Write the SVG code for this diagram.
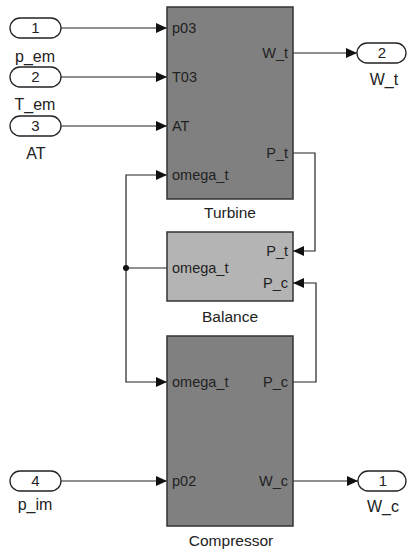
<svg xmlns="http://www.w3.org/2000/svg" width="407" height="551" viewBox="0 0 407 551">
<style>
text{font-family:"Liberation Sans",Arial,sans-serif;fill:#222}
.port{font-size:14.5px}
.name{font-size:15.5px;text-anchor:middle}
.io{fill:#fff;stroke:#222;stroke-width:1.3}
.ion{font-size:15px;text-anchor:middle}
.lbl{font-size:16px;text-anchor:middle}
.blk{stroke:#333;stroke-width:1.5}
.dark{fill:#808080}
.light{fill:#b4b4b4}
.r{text-anchor:end}
.ln{fill:none;stroke:#222;stroke-width:1.2}
</style>
<defs>
<marker id="ah" markerUnits="userSpaceOnUse" markerWidth="11" markerHeight="10" refX="11" refY="5" orient="auto" viewBox="0 0 11 10">
<path d="M0,0 L11,5 L0,10 z" fill="#111"/>
</marker>
</defs>
<g id="connectors">
<path class="ln" d="M61,28 H167" marker-end="url(#ah)"/>
<path class="ln" d="M61,77 H167" marker-end="url(#ah)"/>
<path class="ln" d="M61,126 H167" marker-end="url(#ah)"/>
<path class="ln" d="M293,53 H357" marker-end="url(#ah)"/>
<path class="ln" d="M293,153 H315 V251 H293" marker-end="url(#ah)"/>
<path class="ln" d="M293,382 H316 V283 H293" marker-end="url(#ah)"/>
<path class="ln" d="M167,268 H126"/>
<path class="ln" d="M126,268 V175 H167" marker-end="url(#ah)"/>
<path class="ln" d="M126,268 V382 H167" marker-end="url(#ah)"/>
<circle cx="126" cy="268" r="3" fill="#111"/>
<path class="ln" d="M61,481 H167" marker-end="url(#ah)"/>
<path class="ln" d="M293,481 H358" marker-end="url(#ah)"/>
</g>
<g id="in1"><rect class="io" x="10" y="18" width="51" height="20" rx="10"/><text class="ion" x="35.5" y="33">1</text><text class="lbl" x="35" y="62">p_em</text></g>
<g id="in2"><rect class="io" x="10" y="67" width="51" height="20" rx="10"/><text class="ion" x="35.5" y="82">2</text><text class="lbl" x="35" y="110">T_em</text></g>
<g id="in3"><rect class="io" x="10" y="116" width="51" height="20" rx="10"/><text class="ion" x="35.5" y="131">3</text><text class="lbl" x="36" y="159">AT</text></g>
<g id="in4"><rect class="io" x="10" y="471" width="51" height="20" rx="10"/><text class="ion" x="35.5" y="486">4</text><text class="lbl" x="35" y="510">p_im</text></g>
<g id="out2"><rect class="io" x="357" y="43" width="49" height="20" rx="10"/><text class="ion" x="382" y="58">2</text><text class="lbl" x="384" y="85">W_t</text></g>
<g id="out1"><rect class="io" x="358" y="471" width="48" height="20" rx="10"/><text class="ion" x="383" y="486">1</text><text class="lbl" x="383" y="512">W_c</text></g>
<g id="turbine">
<rect class="blk dark" x="167" y="7" width="126" height="192"/>
<text class="port" x="172" y="33">p03</text>
<text class="port" x="172" y="82">T03</text>
<text class="port" x="172" y="131">AT</text>
<text class="port" x="172" y="180">omega_t</text>
<text class="port r" x="288" y="58">W_t</text>
<text class="port r" x="288" y="158">P_t</text>
<text class="name" x="230" y="218">Turbine</text>
</g>
<g id="balance">
<rect class="blk light" x="167" y="232" width="126" height="69"/>
<text class="port r" x="288" y="256">P_t</text>
<text class="port" x="172" y="273">omega_t</text>
<text class="port r" x="288" y="288">P_c</text>
<text class="name" x="230" y="322">Balance</text>
</g>
<g id="compressor">
<rect class="blk dark" x="167" y="336" width="126" height="190"/>
<text class="port" x="172" y="387">omega_t</text>
<text class="port r" x="288" y="387">P_c</text>
<text class="port" x="172" y="486">p02</text>
<text class="port r" x="288" y="486">W_c</text>
<text class="name" x="231" y="546">Compressor</text>
</g>
</svg>
